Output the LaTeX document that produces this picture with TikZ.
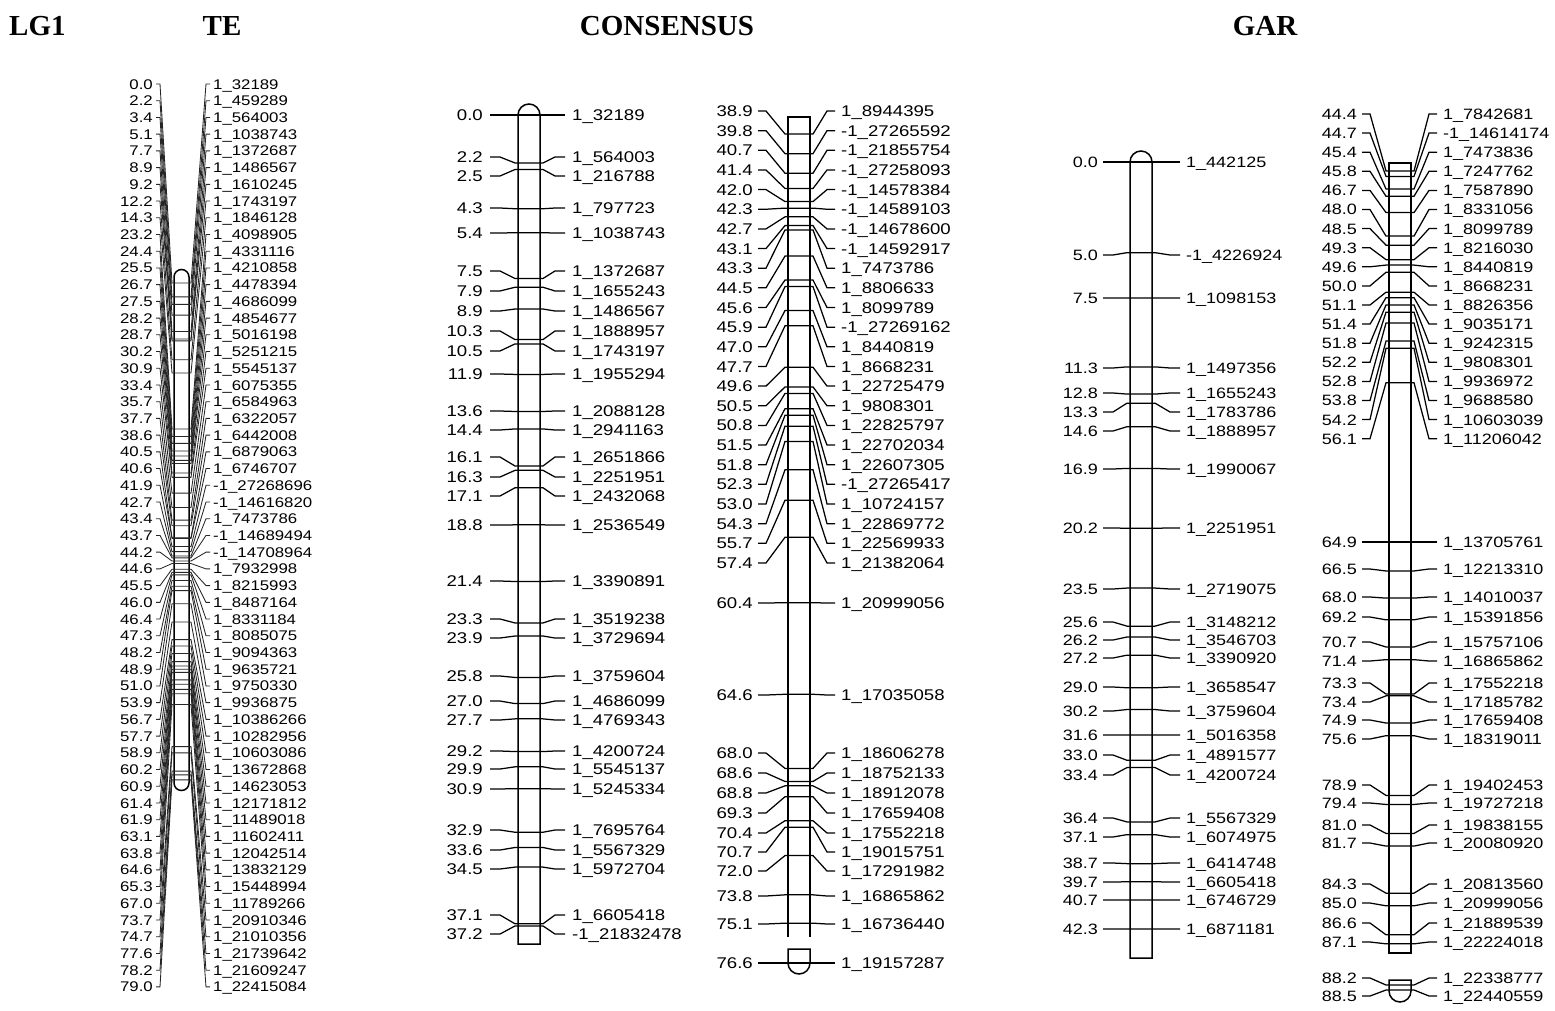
\documentclass[tikz,border=0pt]{standalone}
\usepackage{fontspec}
\setmainfont{Liberation Serif}
\newfontfamily\mapfont{Liberation Sans}[FakeStretch=1.2]
\usepackage{tikz}
\usetikzlibrary{positioning,calc}
\tikzset{
  title/.style={font=\bfseries\fontsize{29}{34}\selectfont, inner sep=0pt},
  chrom/.style={draw=black, line width=1.5pt, fill=white},
  link/.style={draw=black, line width=1.25pt},
  telink/.style={draw=black!85, line width=0.85pt},
  cmlbl/.style={font=\mapfont\fontsize{#1}{#1}\selectfont, anchor=east, inner sep=0pt, text height=0.72*#1pt, text depth=0pt},
  cmlbl/.default={15},
  mklbl/.style={font=\mapfont\fontsize{#1}{#1}\selectfont, anchor=west, inner sep=0pt, text height=0.72*#1pt, text depth=0pt},
  mklbl/.default={15}
}

\begin{document}
\begin{tikzpicture}[x=1pt,y=-1pt]
  \useasboundingbox (0,0) rectangle (1555,1010);
  % headings
  \node[title, anchor=west] (hlg) at (9,26) {LG1};
  \node[title] (hte) at (222,26) {TE};
  \node[title] (hcons) at (667,26) {CONSENSUS};
  \node[title] (hgar) at (1265,26) {GAR};

  % TE
  \draw[chrom] (174,783) -- (174,277) arc[start angle=180, end angle=0, radius=7.5pt]
    -- (189,783) arc[start angle=0, end angle=-180, radius=7.5pt] -- cycle;
  \foreach \cmv/\mname [count=\i] in {0.0/1\_32189, 2.2/1\_459289, 3.4/1\_564003, 5.1/1\_1038743,
      7.7/1\_1372687, 8.9/1\_1486567, 9.2/1\_1610245, 12.2/1\_1743197, 14.3/1\_1846128,
      23.2/1\_4098905, 24.4/1\_4331116, 25.5/1\_4210858, 26.7/1\_4478394, 27.5/1\_4686099,
      28.2/1\_4854677, 28.7/1\_5016198, 30.2/1\_5251215, 30.9/1\_5545137, 33.4/1\_6075355,
      35.7/1\_6584963, 37.7/1\_6322057, 38.6/1\_6442008, 40.5/1\_6879063, 40.6/1\_6746707,
      41.9/-1\_27268696, 42.7/-1\_14616820, 43.4/1\_7473786, 43.7/-1\_14689494,
      44.2/-1\_14708964, 44.6/1\_7932998, 45.5/1\_8215993, 46.0/1\_8487164, 46.4/1\_8331184,
      47.3/1\_8085075, 48.2/1\_9094363, 48.9/1\_9635721, 51.0/1\_9750330, 53.9/1\_9936875,
      56.7/1\_10386266, 57.7/1\_10282956, 58.9/1\_10603086, 60.2/1\_13672868, 60.9/1\_14623053,
      61.4/1\_12171812, 61.9/1\_11489018, 63.1/1\_11602411, 63.8/1\_12042514, 64.6/1\_13832129,
      65.3/1\_15448994, 67.0/1\_11789266, 73.7/1\_20910346, 74.7/1\_21010356, 77.6/1\_21739642,
      78.2/1\_21609247, 79.0/1\_22415084} {
    \pgfmathsetmacro\lyv{84+(\i-1)*16.72}
    \pgfmathsetmacro\byv{283+\cmv*6.29}
    \node[cmlbl=14] (teL\i) at (153,\lyv) {\cmv};
    \node[mklbl=14] (teR\i) at (213,\lyv) {\mname};
    \draw[telink] ([xshift=3pt]teL\i.east) -- ++(4,0) -- (172,\byv) -- (191,\byv)
      -- ([xshift=-7pt]teR\i.west) -- ([xshift=-3pt]teR\i.west);
  }

  % CONSENSUS, first part
  \draw[chrom] (518,944) -- (518,115) arc[start angle=180, end angle=0, radius=11pt] -- (540,944) -- cycle;
  \foreach \lyv/\cmv/\mname [count=\i] in {115/0.0/1\_32189, 157/2.2/1\_564003, 176/2.5/1\_216788,
      208/4.3/1\_797723, 233/5.4/1\_1038743, 271/7.5/1\_1372687, 291/7.9/1\_1655243,
      311/8.9/1\_1486567, 331/10.3/1\_1888957, 351/10.5/1\_1743197, 374/11.9/1\_1955294,
      411/13.6/1\_2088128, 430/14.4/1\_2941163, 457/16.1/1\_2651866, 477/16.3/1\_2251951,
      496/17.1/1\_2432068, 525/18.8/1\_2536549, 581/21.4/1\_3390891, 619/23.3/1\_3519238,
      638/23.9/1\_3729694, 676/25.8/1\_3759604, 701/27.0/1\_4686099, 720/27.7/1\_4769343,
      751/29.2/1\_4200724, 769/29.9/1\_5545137, 789/30.9/1\_5245334, 830/32.9/1\_7695764,
      850/33.6/1\_5567329, 869/34.5/1\_5972704, 915/37.1/1\_6605418, 934/37.2/-1\_21832478} {
    \pgfmathsetmacro\byv{115+\cmv*21.8}
    \node[cmlbl=15.5] (caL\i) at (483,\lyv) {\cmv};
    \node[mklbl=15.5] (caR\i) at (572,\lyv) {\mname};
    \draw[link] ([xshift=7pt]caL\i.east) -- ++(10,0) -- (515,\byv) -- (543,\byv)
      -- ([xshift=-17pt]caR\i.west) -- ([xshift=-7pt]caR\i.west);
  }

  % CONSENSUS, second part
  \draw[chrom] (788,937) -- (788,117) -- (810,117) -- (810,937);
  \draw[chrom] (788,949) -- (788,963) arc[start angle=180, end angle=360, radius=11pt] -- (810,949) -- cycle;
  \foreach \cmv/\mname [count=\i] in {38.9/1\_8944395, 39.8/-1\_27265592, 40.7/-1\_21855754,
      41.4/-1\_27258093, 42.0/-1\_14578384, 42.3/-1\_14589103, 42.7/-1\_14678600,
      43.1/-1\_14592917, 43.3/1\_7473786, 44.5/1\_8806633, 45.6/1\_8099789, 45.9/-1\_27269162,
      47.0/1\_8440819, 47.7/1\_8668231, 49.6/1\_22725479, 50.5/1\_9808301, 50.8/1\_22825797,
      51.5/1\_22702034, 51.8/1\_22607305, 52.3/-1\_27265417, 53.0/1\_10724157,
      54.3/1\_22869772, 55.7/1\_22569933, 57.4/1\_21382064} {
    \pgfmathsetmacro\lyv{111+(\i-1)*19.65}
    \pgfmathsetmacro\byv{134+(\cmv-38.9)*21.8}
    \node[cmlbl=15.5] (cbL\i) at (753,\lyv) {\cmv};
    \node[mklbl=15.5] (cbR\i) at (841,\lyv) {\mname};
    \draw[link] ([xshift=5pt]cbL\i.east) -- ++(8,0) -- (785,\byv) -- (813,\byv)
      -- ([xshift=-14pt]cbR\i.west) -- ([xshift=-6pt]cbR\i.west);
  }
  \foreach \lyv/\cmv/\mname [count=\i] in {603/60.4/1\_20999056, 695/64.6/1\_17035058,
      753/68.0/1\_18606278, 773/68.6/1\_18752133, 793/68.8/1\_18912078, 813/69.3/1\_17659408,
      833/70.4/1\_17552218, 852/70.7/1\_19015751, 871/72.0/1\_17291982, 896/73.8/1\_16865862,
      924/75.1/1\_16736440} {
    \pgfmathsetmacro\byv{134+(\cmv-38.9)*21.8}
    \node[cmlbl=15.5] (ccL\i) at (753,\lyv) {\cmv};
    \node[mklbl=15.5] (ccR\i) at (841,\lyv) {\mname};
    \draw[link] ([xshift=5pt]ccL\i.east) -- ++(8,0) -- (785,\byv) -- (813,\byv)
      -- ([xshift=-14pt]ccR\i.west) -- ([xshift=-6pt]ccR\i.west);
  }
  \node[cmlbl=15.5] (cdL) at (753,963) {76.6};
  \node[mklbl=15.5] (cdR) at (841,963) {1\_19157287};
  \draw[link] ([xshift=5pt]cdL.east) -- ([xshift=-6pt]cdR.west);

  % GAR, first part
  \draw[chrom] (1130,958) -- (1130,162) arc[start angle=180, end angle=0, radius=11pt] -- (1152,958) -- cycle;
  \foreach \lyv/\cmv/\mname [count=\i] in {162/0.0/1\_442125, 255/5.0/-1\_4226924,
      298/7.5/1\_1098153, 368/11.3/1\_1497356, 393/12.8/1\_1655243, 412/13.3/1\_1783786,
      431/14.6/1\_1888957, 469/16.9/1\_1990067, 528/20.2/1\_2251951, 589/23.5/1\_2719075,
      622/25.6/1\_3148212, 640/26.2/1\_3546703, 658/27.2/1\_3390920, 687/29.0/1\_3658547,
      711/30.2/1\_3759604, 735/31.6/1\_5016358, 755/33.0/1\_4891577, 775/33.4/1\_4200724,
      818/36.4/1\_5567329, 837/37.1/1\_6074975, 863/38.7/1\_6414748, 882/39.7/1\_6605418,
      900/40.7/1\_6746729, 929/42.3/1\_6871181} {
    \pgfmathsetmacro\byv{162+\cmv*18.13}
    \node[cmlbl] (gaL\i) at (1098,\lyv) {\cmv};
    \node[mklbl] (gaR\i) at (1186,\lyv) {\mname};
    \draw[link] ([xshift=5pt]gaL\i.east) -- ++(10,0) -- (1127,\byv) -- (1155,\byv)
      -- ([xshift=-16pt]gaR\i.west) -- ([xshift=-6pt]gaR\i.west);
  }

  % GAR, second part
  \draw[chrom] (1389,953) rectangle (1411,163);
  \draw[chrom] (1389,980) -- (1389,991) arc[start angle=180, end angle=360, radius=11pt] -- (1411,980) -- cycle;
  \foreach \cmv/\mname [count=\i] in {44.4/1\_7842681, 44.7/-1\_14614174, 45.4/1\_7473836,
      45.8/1\_7247762, 46.7/1\_7587890, 48.0/1\_8331056, 48.5/1\_8099789, 49.3/1\_8216030,
      49.6/1\_8440819, 50.0/1\_8668231, 51.1/1\_8826356, 51.4/1\_9035171, 51.8/1\_9242315,
      52.2/1\_9808301, 52.8/1\_9936972, 53.8/1\_9688580, 54.2/1\_10603039, 56.1/1\_11206042} {
    \pgfmathsetmacro\lyv{114+(\i-1)*19.1}
    \pgfmathsetmacro\byv{542+(\cmv-64.9)*18.1}
    \node[cmlbl] (gbL\i) at (1357,\lyv) {\cmv};
    \node[mklbl] (gbR\i) at (1443,\lyv) {\mname};
    \draw[link] ([xshift=5pt]gbL\i.east) -- ++(8,0) -- (1386,\byv) -- (1414,\byv)
      -- ([xshift=-14pt]gbR\i.west) -- ([xshift=-6pt]gbR\i.west);
  }
  \foreach \lyv/\cmv/\mname [count=\i] in {542/64.9/1\_13705761, 569/66.5/1\_12213310,
      597/68.0/1\_14010037, 617/69.2/1\_15391856, 642/70.7/1\_15757106, 661/71.4/1\_16865862,
      683/73.3/1\_17552218, 702/73.4/1\_17185782, 720/74.9/1\_17659408, 739/75.6/1\_18319011,
      785/78.9/1\_19402453, 803/79.4/1\_19727218, 825/81.0/1\_19838155, 843/81.7/1\_20080920,
      884/84.3/1\_20813560, 903/85.0/1\_20999056, 923/86.6/1\_21889539, 942/87.1/1\_22224018} {
    \pgfmathsetmacro\byv{542+(\cmv-64.9)*18.1}
    \node[cmlbl] (gcL\i) at (1357,\lyv) {\cmv};
    \node[mklbl] (gcR\i) at (1443,\lyv) {\mname};
    \draw[link] ([xshift=5pt]gcL\i.east) -- ++(8,0) -- (1386,\byv) -- (1414,\byv)
      -- ([xshift=-14pt]gcR\i.west) -- ([xshift=-6pt]gcR\i.west);
  }
  \foreach \lyv/\byv/\cmv/\mname [count=\i] in {978/985/88.2/1\_22338777, 996/990/88.5/1\_22440559} {
    \node[cmlbl] (gdL\i) at (1357,\lyv) {\cmv};
    \node[mklbl] (gdR\i) at (1443,\lyv) {\mname};
    \draw[link] ([xshift=5pt]gdL\i.east) -- ++(8,0) -- (1386,\byv) -- (1414,\byv)
      -- ([xshift=-14pt]gdR\i.west) -- ([xshift=-6pt]gdR\i.west);
  }
\end{tikzpicture}
\end{document}
